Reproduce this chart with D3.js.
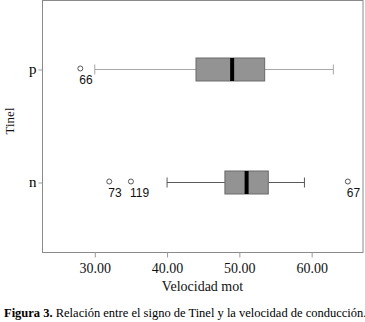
<!DOCTYPE html>
<html><head><meta charset="utf-8">
<script src="https://cdn.jsdelivr.net/npm/d3@7"></script>
<style>body{margin:0;background:#fff}svg{display:block}</style>
</head><body>
<script>
const categories = ["p", "n"];
const whiskerLow = [30, 40];
const q1 = [44, 48];
const medianV = [49, 51];
const q3 = [53.5, 54];
const whiskerHigh = [63, 59];
const outlierValues = [[28], [32, 35, 65]];
const outlierLabels = [["66"], ["73", "119", "67"]];
const xTicks = [30, 40, 50, 60];

const W = 365, H = 322;
const svg = d3.select("body").append("svg").attr("width", W).attr("height", H);
const L = 42, R = 363, T = 0, B = 252;
const x = d3.scaleLinear().domain([22.7, 67.1]).range([L, R]);
const y = d3.scalePoint().domain(categories).range([T, B]).padding(0.615);
const serif = "Liberation Serif, Times New Roman, serif";
const sans = "Liberation Sans, Arial, sans-serif";

// frame
svg.append("rect").attr("x", L + 0.5).attr("y", T + 0.5).attr("width", R - L - 0.5).attr("height", B - T)
  .attr("fill", "none").attr("stroke", "#8a8a8a").attr("stroke-width", 1);

// x axis
const xAxis = d3.axisBottom(x).tickValues(xTicks).tickFormat(d3.format(".2f")).tickSize(5).tickSizeOuter(0);
const gx = svg.append("g").attr("transform", `translate(0,${B + 0.5})`).call(xAxis);
gx.attr("font-family", null);
gx.select(".domain").remove();
gx.selectAll(".tick line").attr("stroke", "#999");
gx.selectAll(".tick text").style("font-family", serif).style("font-size", "14px").attr("fill", "#111").attr("dy", null).attr("y", 20);

// y axis
const yAxis = d3.axisLeft(y).tickSize(4).tickSizeOuter(0);
const gy = svg.append("g").attr("transform", `translate(${L + 0.5},0)`).call(yAxis);
gy.attr("font-family", null);
gy.select(".domain").remove();
gy.selectAll(".tick line").attr("stroke", "#999");
gy.selectAll(".tick text").style("font-family", serif).style("font-size", "15px").attr("fill", "#000").attr("x", -6).attr("dy", "0.28em");

// boxes
const bh = 23, cap = 5;
categories.forEach((c, i) => {
  const cy = y(c);
  const wc = i === 0 ? "#a6a6a6" : "#5a5a5a";
  const g = svg.append("g");
  g.append("line").attr("x1", x(whiskerLow[i])).attr("x2", x(q1[i])).attr("y1", cy).attr("y2", cy).attr("stroke", wc);
  g.append("line").attr("x1", x(q3[i])).attr("x2", x(whiskerHigh[i])).attr("y1", cy).attr("y2", cy).attr("stroke", wc);
  g.append("line").attr("x1", x(whiskerLow[i])).attr("x2", x(whiskerLow[i])).attr("y1", cy - cap).attr("y2", cy + cap).attr("stroke", wc);
  g.append("line").attr("x1", x(whiskerHigh[i])).attr("x2", x(whiskerHigh[i])).attr("y1", cy - cap).attr("y2", cy + cap).attr("stroke", wc);
  g.append("rect").attr("x", x(q1[i])).attr("y", cy - bh / 2).attr("width", x(q3[i]) - x(q1[i])).attr("height", bh)
    .attr("fill", "#939393").attr("stroke", "#6a6a6a").attr("stroke-width", 1);
  g.append("line").attr("x1", x(medianV[i])).attr("x2", x(medianV[i])).attr("y1", cy - bh / 2).attr("y2", cy + bh / 2)
    .attr("stroke", "#000").attr("stroke-width", 4);
  outlierValues[i].forEach((v, j) => {
    g.append("circle").attr("cx", x(v)).attr("cy", cy - 1).attr("r", 2.5).attr("fill", "#fff").attr("stroke", "#555");
    g.append("text").attr("x", x(v) - 1).attr("y", cy + 14.5).style("font-family", sans).style("font-size", "12px")
      .attr("fill", "#111").text(outlierLabels[i][j]);
  });
});

// axis titles
svg.append("text").attr("x", (L + R) / 2).attr("y", 291).attr("text-anchor", "middle")
  .style("font-family", serif).style("font-size", "14px").attr("fill", "#111").text("Velocidad mot");
svg.append("text").attr("transform", `translate(13.5,${(T + B) / 2 - 5}) rotate(-90)`).attr("text-anchor", "middle")
  .style("font-family", serif).style("font-size", "13px").attr("fill", "#111").text("Tinel");

// caption
const cap1 = svg.append("text").attr("x", 4).attr("y", 317).style("font-family", serif).style("font-size", "12.5px").attr("fill", "#000");
cap1.append("tspan").attr("font-weight", "bold").text("Figura 3.");
cap1.append("tspan").text(" Relación entre el signo de Tinel y la velocidad de conducción.");
</script>
</body></html>
